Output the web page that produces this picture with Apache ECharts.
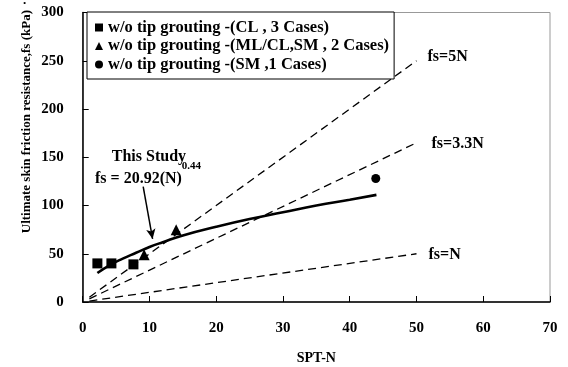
<!DOCTYPE html>
<html><head><meta charset="utf-8">
<script src="https://cdn.jsdelivr.net/npm/echarts@6/dist/echarts.min.js"></script>
<style>html,body{margin:0;padding:0;background:#fff}#c{width:568px;height:367px}</style>
</head><body><div id="c"></div>
<script>
var xTicks = [0,10,20,30,40,50,60,70];
var yTicks = [0,50,100,150,200,250,300];
var clPoints = [[2.2,40],[4.3,40],[7.6,39]];
var mlPoints = [[9.2,49],[14,75]];
var smPoints = [[43.9,128]];
var studyCurve = [[2.2,30],[4,38],[6,45],[8,51],[10,57],[12,62],[15,69],[20,78],[25,86],[30,93],[35,100],[40,106],[44,111]];
var line5N = [[1,5],[50,250]];
var line33N = [[1,3.3],[50,165]];
var line1N = [[1,1],[50,50]];
var legendNames = ['w/o tip grouting -(CL , 3 Cases)','w/o tip grouting -(ML/CL,SM , 2 Cases)','w/o tip grouting -(SM ,1 Cases)'];
var arrowFrom = [9.06,119.5], arrowTo = [10.47,65.3];

var F = '"Liberation Serif","Times New Roman",serif';
var chart = echarts.init(document.getElementById('c'));
function dashed(data,label,off){
  return {type:'line',data:data,symbol:'none',silent:true,
    lineStyle:{color:'#000',width:1.3,type:[8,5]},
    endLabel:{show:true,formatter:label,color:'#000',fontFamily:F,fontWeight:'bold',fontSize:16,offset:off}};
}
chart.setOption({
  animation:false,
  grid:{left:82.7,right:18,top:12.5,bottom:65,show:true,borderColor:'#999',borderWidth:1,outerBoundsMode:'none',containLabel:false},
  legend:{orient:'vertical',left:87,top:12,padding:[7,5,6,8],itemGap:1.5,itemWidth:8,itemHeight:8,
    borderColor:'#000',borderWidth:1,backgroundColor:'#fff',
    textStyle:{color:'#000',fontFamily:F,fontWeight:'bold',fontSize:16.5,lineHeight:14},
    data:[{name:legendNames[0],icon:'rect'},{name:legendNames[1],icon:'triangle'},{name:legendNames[2],icon:'circle'}]},
  xAxis:{type:'value',min:0,max:70,interval:10,name:'SPT-N',nameLocation:'middle',nameGap:49,
    nameTextStyle:{color:'#000',fontFamily:F,fontWeight:'bold',fontSize:14},
    axisLine:{lineStyle:{color:'#000',width:1.5}},axisTick:{inside:true,length:6,lineStyle:{color:'#000'}},
    axisLabel:{color:'#000',fontFamily:F,fontWeight:'bold',fontSize:15,margin:19},splitLine:{show:false}},
  yAxis:{type:'value',min:0,max:300,interval:50,
    axisLine:{show:true,lineStyle:{color:'#000',width:1.5}},axisTick:{show:true,inside:true,length:6,lineStyle:{color:'#000'}},
    axisLabel:{color:'#000',fontFamily:F,fontWeight:'bold',fontSize:15,margin:19},splitLine:{show:false}},
  series:[
    dashed(line5N,'fs=5N',[3,-4]),
    dashed(line33N,'fs=3.3N',[7,1]),
    dashed(line1N,'fs=N',[4,1]),
    {type:'line',data:studyCurve,symbol:'none',smooth:true,lineStyle:{color:'#000',width:2.6},
      markLine:{silent:true,symbol:['none','arrow'],symbolSize:[7,10],label:{show:false},
        lineStyle:{color:'#000',width:1.5,type:'solid'},
        data:[[{coord:arrowFrom},{coord:arrowTo}]]}},
    {name:legendNames[0],type:'scatter',symbol:'rect',symbolSize:10,itemStyle:{color:'#000',opacity:1},data:clPoints},
    {name:legendNames[1],type:'scatter',symbol:'triangle',symbolSize:11,itemStyle:{color:'#000',opacity:1},data:mlPoints},
    {name:legendNames[2],type:'scatter',symbol:'circle',symbolSize:9,itemStyle:{color:'#000',opacity:1},data:smPoints}
  ]
});
var p1 = chart.convertToPixel('grid',[9.92,150.4]);
var p2 = chart.convertToPixel('grid',[1.84,127.9]);
var p3 = chart.convertToPixel('grid',[14.85,140.4]);
chart.setOption({graphic:[
  {type:'text',x:p1[0],y:p1[1],style:{text:'This Study',fill:'#000',font:'bold 16px '+F,align:'center',verticalAlign:'middle'}},
  {type:'text',x:p2[0],y:p2[1],style:{text:'fs = 20.92(N)',fill:'#000',font:'bold 16px '+F,align:'left',verticalAlign:'middle'}},
  {type:'text',x:p3[0],y:p3[1],style:{text:'0.44',fill:'#000',font:'bold 11px '+F,align:'left',verticalAlign:'middle'}},
  {type:'text',rotation:Math.PI/2,left:20,top:10,style:{text:'Ultimate skin friction resistance,fs (kPa)',fill:'#000',font:'bold 13px '+F}},
  {type:'text',left:23,top:-6,style:{text:'.',fill:'#000',font:'bold 13px '+F}}
]});
</script></body></html>
